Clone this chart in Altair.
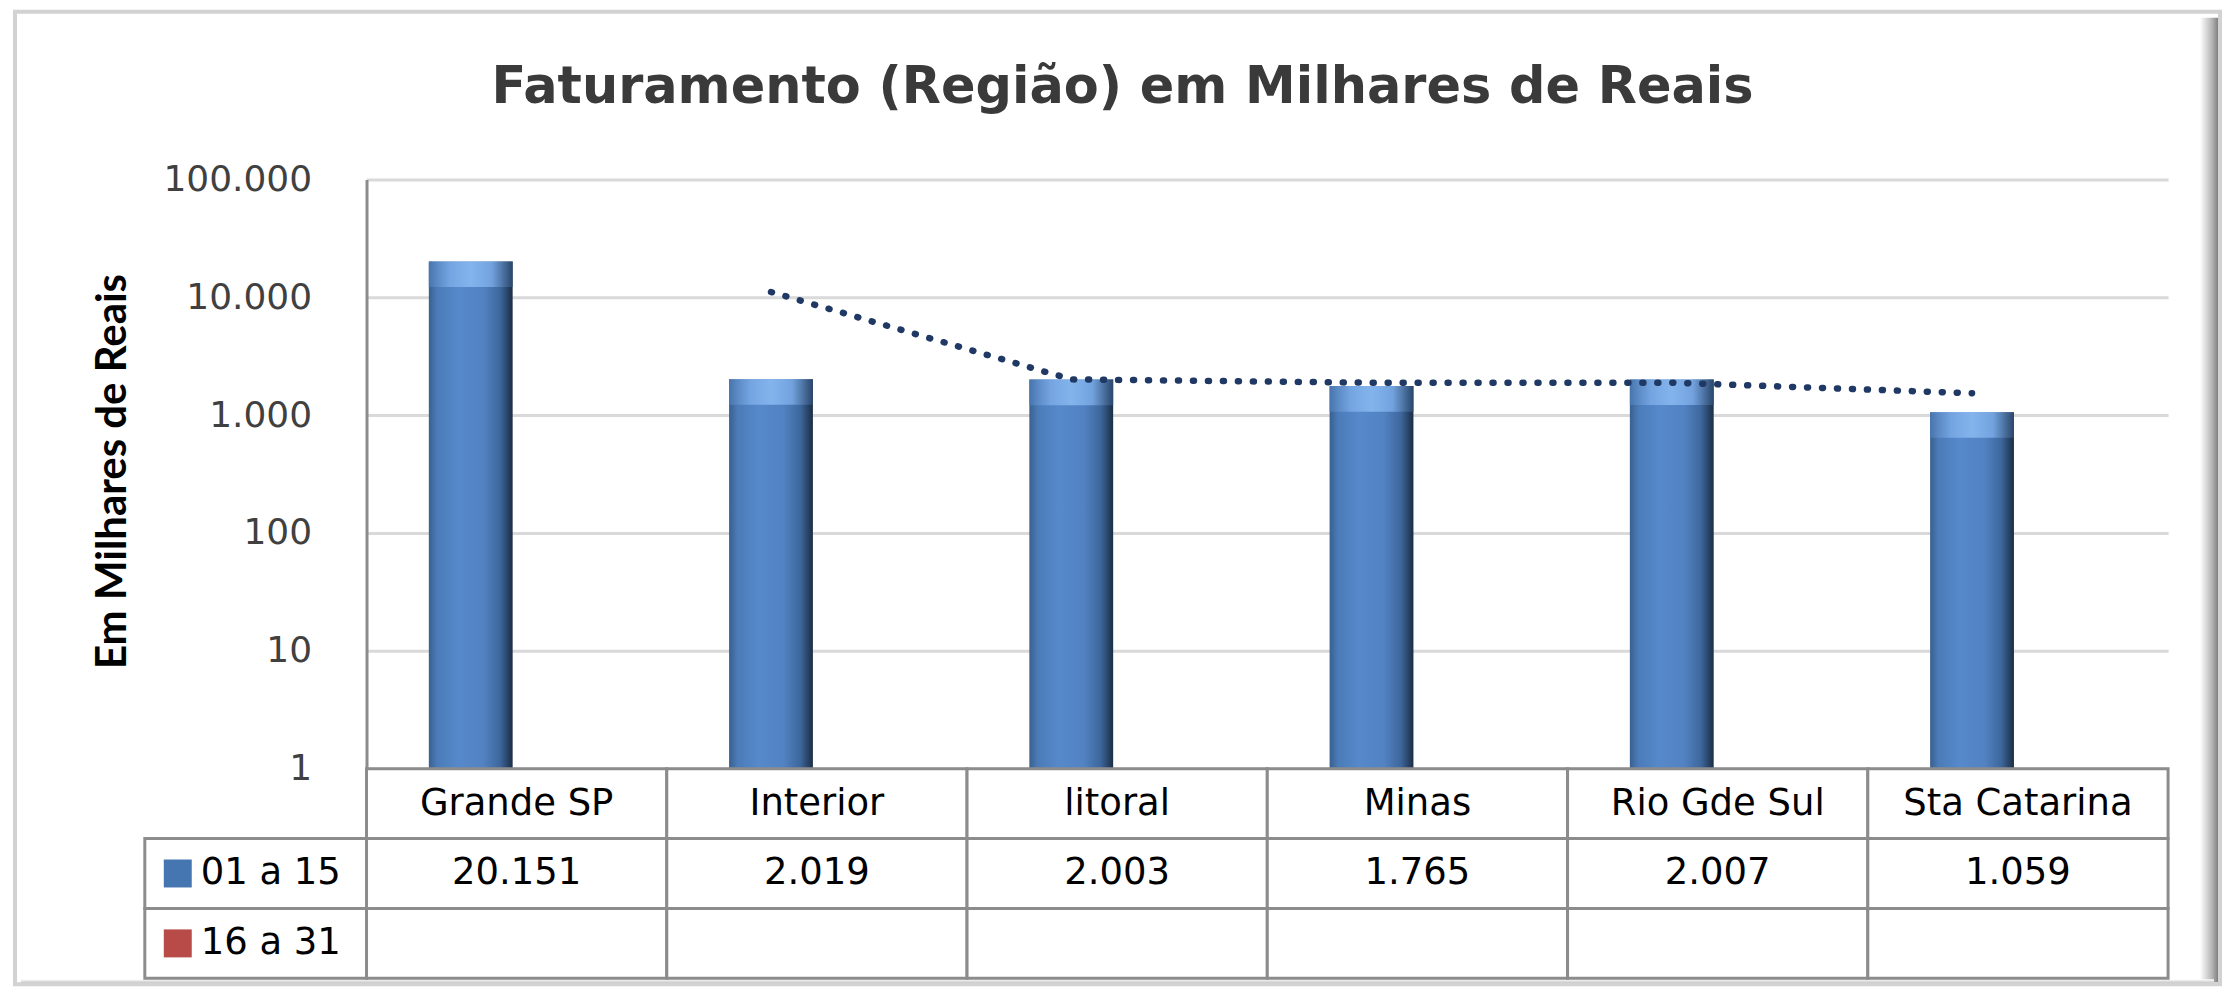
import altair as alt
import pandas as pd

# ---- data ----
regioes = ["Grande SP", "Interior", "litoral", "Minas", "Rio Gde Sul", "Sta Catarina"]
series = ["01 a 15", "16 a 31"]
valores_01_15 = [20151, 2019, 2003, 1765, 2007, 1059]
valores_16_31 = [None, None, None, None, None, None]
y_ticks = [1, 10, 100, 1000, 10000, 100000]
linhas_tabela = ["cab", "01 a 15", "16 a 31"]

rows = []
for i, r in enumerate(regioes):
    rows.append({"regiao": r, "serie": series[0], "valor": valores_01_15[i], "ordem": i})
df = pd.DataFrame(rows)

cells = []
for i, r in enumerate(regioes):
    cells.append({"regiao": r, "linha": "cab", "valor": None})
    cells.append({"regiao": r, "linha": series[0], "valor": valores_01_15[i]})
    cells.append({"regiao": r, "linha": series[1], "valor": valores_16_31[i]})
df_cells = pd.DataFrame(cells)
df_leg = pd.DataFrame({"linha": series})
df_frame = pd.DataFrame({"k": [0]})

W, H = 1804, 590
TH = 210


def hgrad(stops):
    return alt.Gradient(
        gradient="linear", x1=0, x2=1, y1=0, y2=0,
        stops=[alt.GradientStop(offset=o, color=c) for o, c in stops],
    )


def vgrad(stops):
    return alt.Gradient(
        gradient="linear", x1=0, x2=0, y1=0, y2=1,
        stops=[alt.GradientStop(offset=o, color=c) for o, c in stops],
    )


bar_grad = hgrad([(0.0, "#39608f"), (0.10, "#4b7bb8"), (0.35, "#5689cb"),
                  (0.65, "#5282c2"), (0.85, "#3d679c"), (1.0, "#1b2d45")])
cap_grad = hgrad([(0.0, "#4a78b2"), (0.25, "#7aaae6"), (0.5, "#8cbcf2"),
                  (0.75, "#7aaae6"), (1.0, "#2c4a70")])

x_scale = alt.Scale(domain=regioes, paddingInner=0.415, paddingOuter=0.2075)
y_scale = alt.Scale(type="log", domain=[1, 100000])

y_axis = alt.Axis(
    values=y_ticks, format=",d", grid=True, gridColor="#d9d9d9", gridWidth=3,
    domainColor="#8c8c8c", domainWidth=3, ticks=False,
    labelFont="DejaVu Sans", labelFontSize=36, labelColor="#404040", labelPadding=55,
    title="Em Milhares de Reais", titleFont="Lato", titleFontSize=42,
    titleFontWeight="bold", titleColor="#000000", titleX=-254, titleY=292,
    titleAngle=270, titleBaseline="middle", titleAlign="center",
)

xo = alt.XOffset("serie:N", scale=alt.Scale(domain=series, paddingInner=0.087, paddingOuter=0))
bx = alt.X("regiao:N", scale=x_scale, axis=None)

bars = alt.Chart(df).mark_bar(color=bar_grad).encode(
    x=bx, xOffset=xo,
    y=alt.Y("valor:Q", scale=y_scale, axis=y_axis, stack=False),
    y2=alt.datum(1),
)

# lighter bevel cap at the top of each bar (same value, shaded band just under the top)
caps = (
    alt.Chart(df)
    .transform_calculate(base="datum.valor / 1.65")
    .mark_bar(color=cap_grad, opacity=0.85)
    .encode(
        x=bx, xOffset=xo,
        y=alt.Y("valor:Q", scale=y_scale, axis=y_axis, stack=False),
        y2="base:Q",
    )
)

trend = (
    alt.Chart(df)
    .transform_window(media="mean(valor)", n="count()", frame=[-1, 0], sort=[alt.SortField("ordem")])
    .transform_filter("datum.n == 2")
    .mark_line(color="#1f3864", strokeWidth=6.5, strokeDash=[1, 14], strokeCap="round")
    .encode(
        x=alt.X("regiao:N", scale=x_scale, axis=None, bandPosition=0.2388),
        y=alt.Y("media:Q", scale=y_scale, axis=y_axis),
    )
)

top = alt.layer(bars, caps, trend).properties(
    width=W, height=H,
    title=alt.TitleParams(
        text="Faturamento (Região) em Milhares de Reais", font="DejaVu Sans", fontSize=51,
        fontWeight="bold", color="#3a3a3a", anchor="middle", frame="group", dx=-145, offset=48,
    ),
)

tx = alt.X("regiao:N", scale=alt.Scale(domain=regioes, paddingInner=0, paddingOuter=0), axis=None)
ty = alt.Y("linha:N", scale=alt.Scale(domain=linhas_tabela, paddingInner=0, paddingOuter=0), axis=None)

# outer chart frame with soft shadow on right and bottom (decoration)
frame = alt.Chart(df_frame).mark_rect(fill="white", fillOpacity=0, stroke="#d2d2d2", strokeWidth=4).encode(
    x=alt.value(-352), x2=alt.value(1856), y=alt.value(-758), y2=alt.value(216)
)
shadow_r = alt.Chart(df_frame).mark_rect(color=hgrad([(0, "#ffffff"), (0.6, "#b5b5b5"), (1, "#6f6f6f")])).encode(
    x=alt.value(1836), x2=alt.value(1856), y=alt.value(-752), y2=alt.value(214)
)
shadow_b = alt.Chart(df_frame).mark_rect(color=vgrad([(0, "#ffffff"), (1, "#9a9a9a")])).encode(
    x=alt.value(-346), x2=alt.value(1850), y=alt.value(211), y2=alt.value(217)
)
grid_cells = alt.Chart(df_cells).mark_rect(fill="white", stroke="#8c8c8c", strokeWidth=3).encode(x=tx, y=ty)
leg_cells = alt.Chart(df_leg).mark_rect(fill="white", stroke="#8c8c8c", strokeWidth=3).encode(
    x=alt.value(-222), x2=alt.value(0), y=ty
)
swatch = alt.Chart(df_leg).mark_square(size=784, opacity=1).encode(
    x=alt.value(-189), y=ty,
    color=alt.Color("linha:N", scale=alt.Scale(domain=series, range=["#4676b2", "#b84a47"]), legend=None),
)
leg_text = alt.Chart(df_leg).mark_text(align="left", font="DejaVu Sans", fontSize=37, color="#000000").encode(
    x=alt.value(-166), y=ty, text="linha:N"
)
head_text = alt.Chart(df_cells).transform_filter("datum.linha == 'cab'").mark_text(
    font="DejaVu Sans", fontSize=37, color="#000000"
).encode(x=tx, y=ty, text="regiao:N")
val_text = alt.Chart(df_cells).transform_filter("datum.linha == '01 a 15' && isValid(datum.valor)").mark_text(
    font="DejaVu Sans", fontSize=37, color="#000000"
).encode(x=tx, y=ty, text=alt.Text("valor:Q", format=",d"))

table = alt.layer(shadow_r, shadow_b, frame, grid_cells, leg_cells, swatch, leg_text, head_text, val_text).properties(
    width=W, height=TH
)

chart = (
    alt.vconcat(top, table, spacing=0, bounds="flush")
    .properties(padding={"left": 4, "top": 0, "right": 0, "bottom": 0})
    .configure(locale={"number": {"decimal": ",", "thousands": ".", "grouping": [3], "currency": ["R$", ""]}})
    .configure_view(stroke="transparent")
)

chart.save("out.html", embed_options={"renderer": "svg", "actions": False})
